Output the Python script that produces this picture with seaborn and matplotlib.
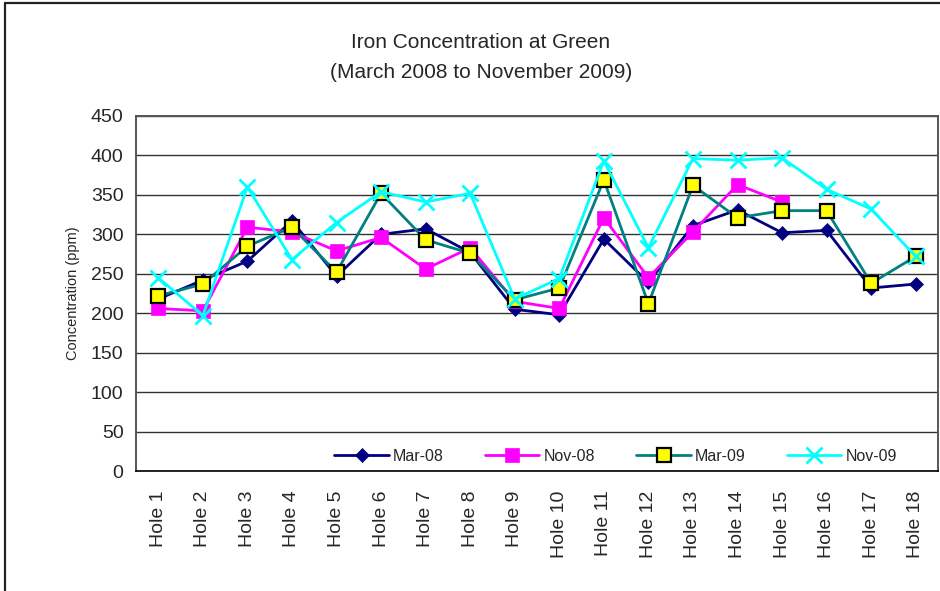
import numpy as np
import pandas as pd
import matplotlib
matplotlib.use("Agg")
import matplotlib.pyplot as plt
from matplotlib.lines import Line2D
from matplotlib.ticker import FixedLocator, NullFormatter
import seaborn as sns

# Iron concentration (ppm) per hole for each sampling campaign
holes = [f"Hole {i}" for i in range(1, 19)]
mar_08 = [218, 242, 266, 317, 247, 300, 307, 277, 205, 198, 294, 239, 311, 331, 302, 305, 232, 237]
nov_08 = [206, 203, 309, 303, 279, 296, 256, 283, 215, 206, 321, 245, 303, 363, 341, np.nan, np.nan, np.nan]
mar_09 = [222, 237, 285, 309, 252, 352, 293, 276, 217, 232, 369, 212, 362, 321, 330, 330, 238, 272]
nov_09 = [245, 197, 360, 268, 315, 354, 341, 352, 218, 244, 393, 283, 396, 394, 397, 357, 332, 272]
y_ticks = [0, 50, 100, 150, 200, 250, 300, 350, 400, 450]

sns.set_style("white")
plt.rcParams["font.family"] = ["Liberation Sans", "DejaVu Sans"]

W, H = 940, 591
fig = plt.figure(figsize=(W / 100, H / 100), dpi=100)
ax = fig.add_axes([136 / W, 1 - 471 / H, (938 - 136) / W, (471 - 116) / H])

pos = np.arange(len(holes))
df = pd.DataFrame({"pos": pos, "hole": holes, "Mar-08": mar_08, "Nov-08": nov_08,
                   "Mar-09": mar_09, "Nov-09": nov_09})

styles = {
    "Mar-08": dict(color="#000080", marker="D", markersize=7.5, markerfacecolor="#000080",
                   markeredgecolor="#000080", markeredgewidth=0.5),
    "Nov-08": dict(color="#FF00FF", marker="s", markersize=10.5, markerfacecolor="#FF00FF",
                   markeredgecolor="#FF00FF", markeredgewidth=0.5),
    "Mar-09": dict(color="#008080", marker="s", markersize=9.5, markerfacecolor="#FFFF00",
                   markeredgecolor="black", markeredgewidth=1.6),
    "Nov-09": dict(color="#00FFFF", marker="x", markersize=11, markeredgecolor="#00FFFF",
                   markeredgewidth=2.0),
}
for name, st in styles.items():
    sns.lineplot(data=df, x="pos", y=name, ax=ax, label=name, linewidth=2.0,
                 sort=False, errorbar=None, **st)

ax.set_xlim(-0.5, len(holes) - 0.5)
ax.set_ylim(0, 450)
ax.set_yticks(y_ticks)
ax.yaxis.grid(True, color="#333333", linewidth=1.0)
ax.set_axisbelow(True)

ax.set_xticks(pos)
ax.set_xticklabels(holes, rotation=90, fontsize=14, va="top", ha="center")
ax.xaxis.set_minor_locator(FixedLocator(np.arange(-0.5, len(holes), 1.0)))
ax.xaxis.set_minor_formatter(NullFormatter())
ax.tick_params(axis="x", which="major", length=0, pad=14)
ax.tick_params(axis="x", which="minor", length=4.5, width=1.0, color="black", direction="out")
ax.tick_params(axis="y", which="major", length=6, width=1.0, color="#333333",
               direction="out", labelsize=14, pad=3)
ax.set_xlabel("")
ax.set_ylabel("Concentration (ppm)", fontsize=10.5, labelpad=8)

for side in ["left", "right", "top"]:
    ax.spines[side].set_color("#555555")
    ax.spines[side].set_linewidth(1.4)
ax.spines["bottom"].set_color("black")
ax.spines["bottom"].set_linewidth(1.2)

leg = ax.legend(loc="center", bbox_to_anchor=(0.598, 0.042), ncol=4, frameon=False,
                fontsize=11.5, handlelength=3.4, handletextpad=0.25, columnspacing=2.6)

fig.text(481 / W, 1 - 42 / H, "Iron Concentration at Green", fontsize=15,
         ha="center", va="center")
fig.text(481 / W, 1 - 72 / H, "(March 2008 to November 2009)", fontsize=15,
         ha="center", va="center")

# Outer chart frame (left and top edges)
fig.add_artist(Line2D([5 / W, 5 / W], [0, 1 - 3 / H], transform=fig.transFigure,
                      color="#222222", linewidth=1.6))
fig.add_artist(Line2D([5 / W, 1], [1 - 3 / H, 1 - 3 / H], transform=fig.transFigure,
                      color="#222222", linewidth=1.6))

fig.savefig("out.png", dpi=100)
